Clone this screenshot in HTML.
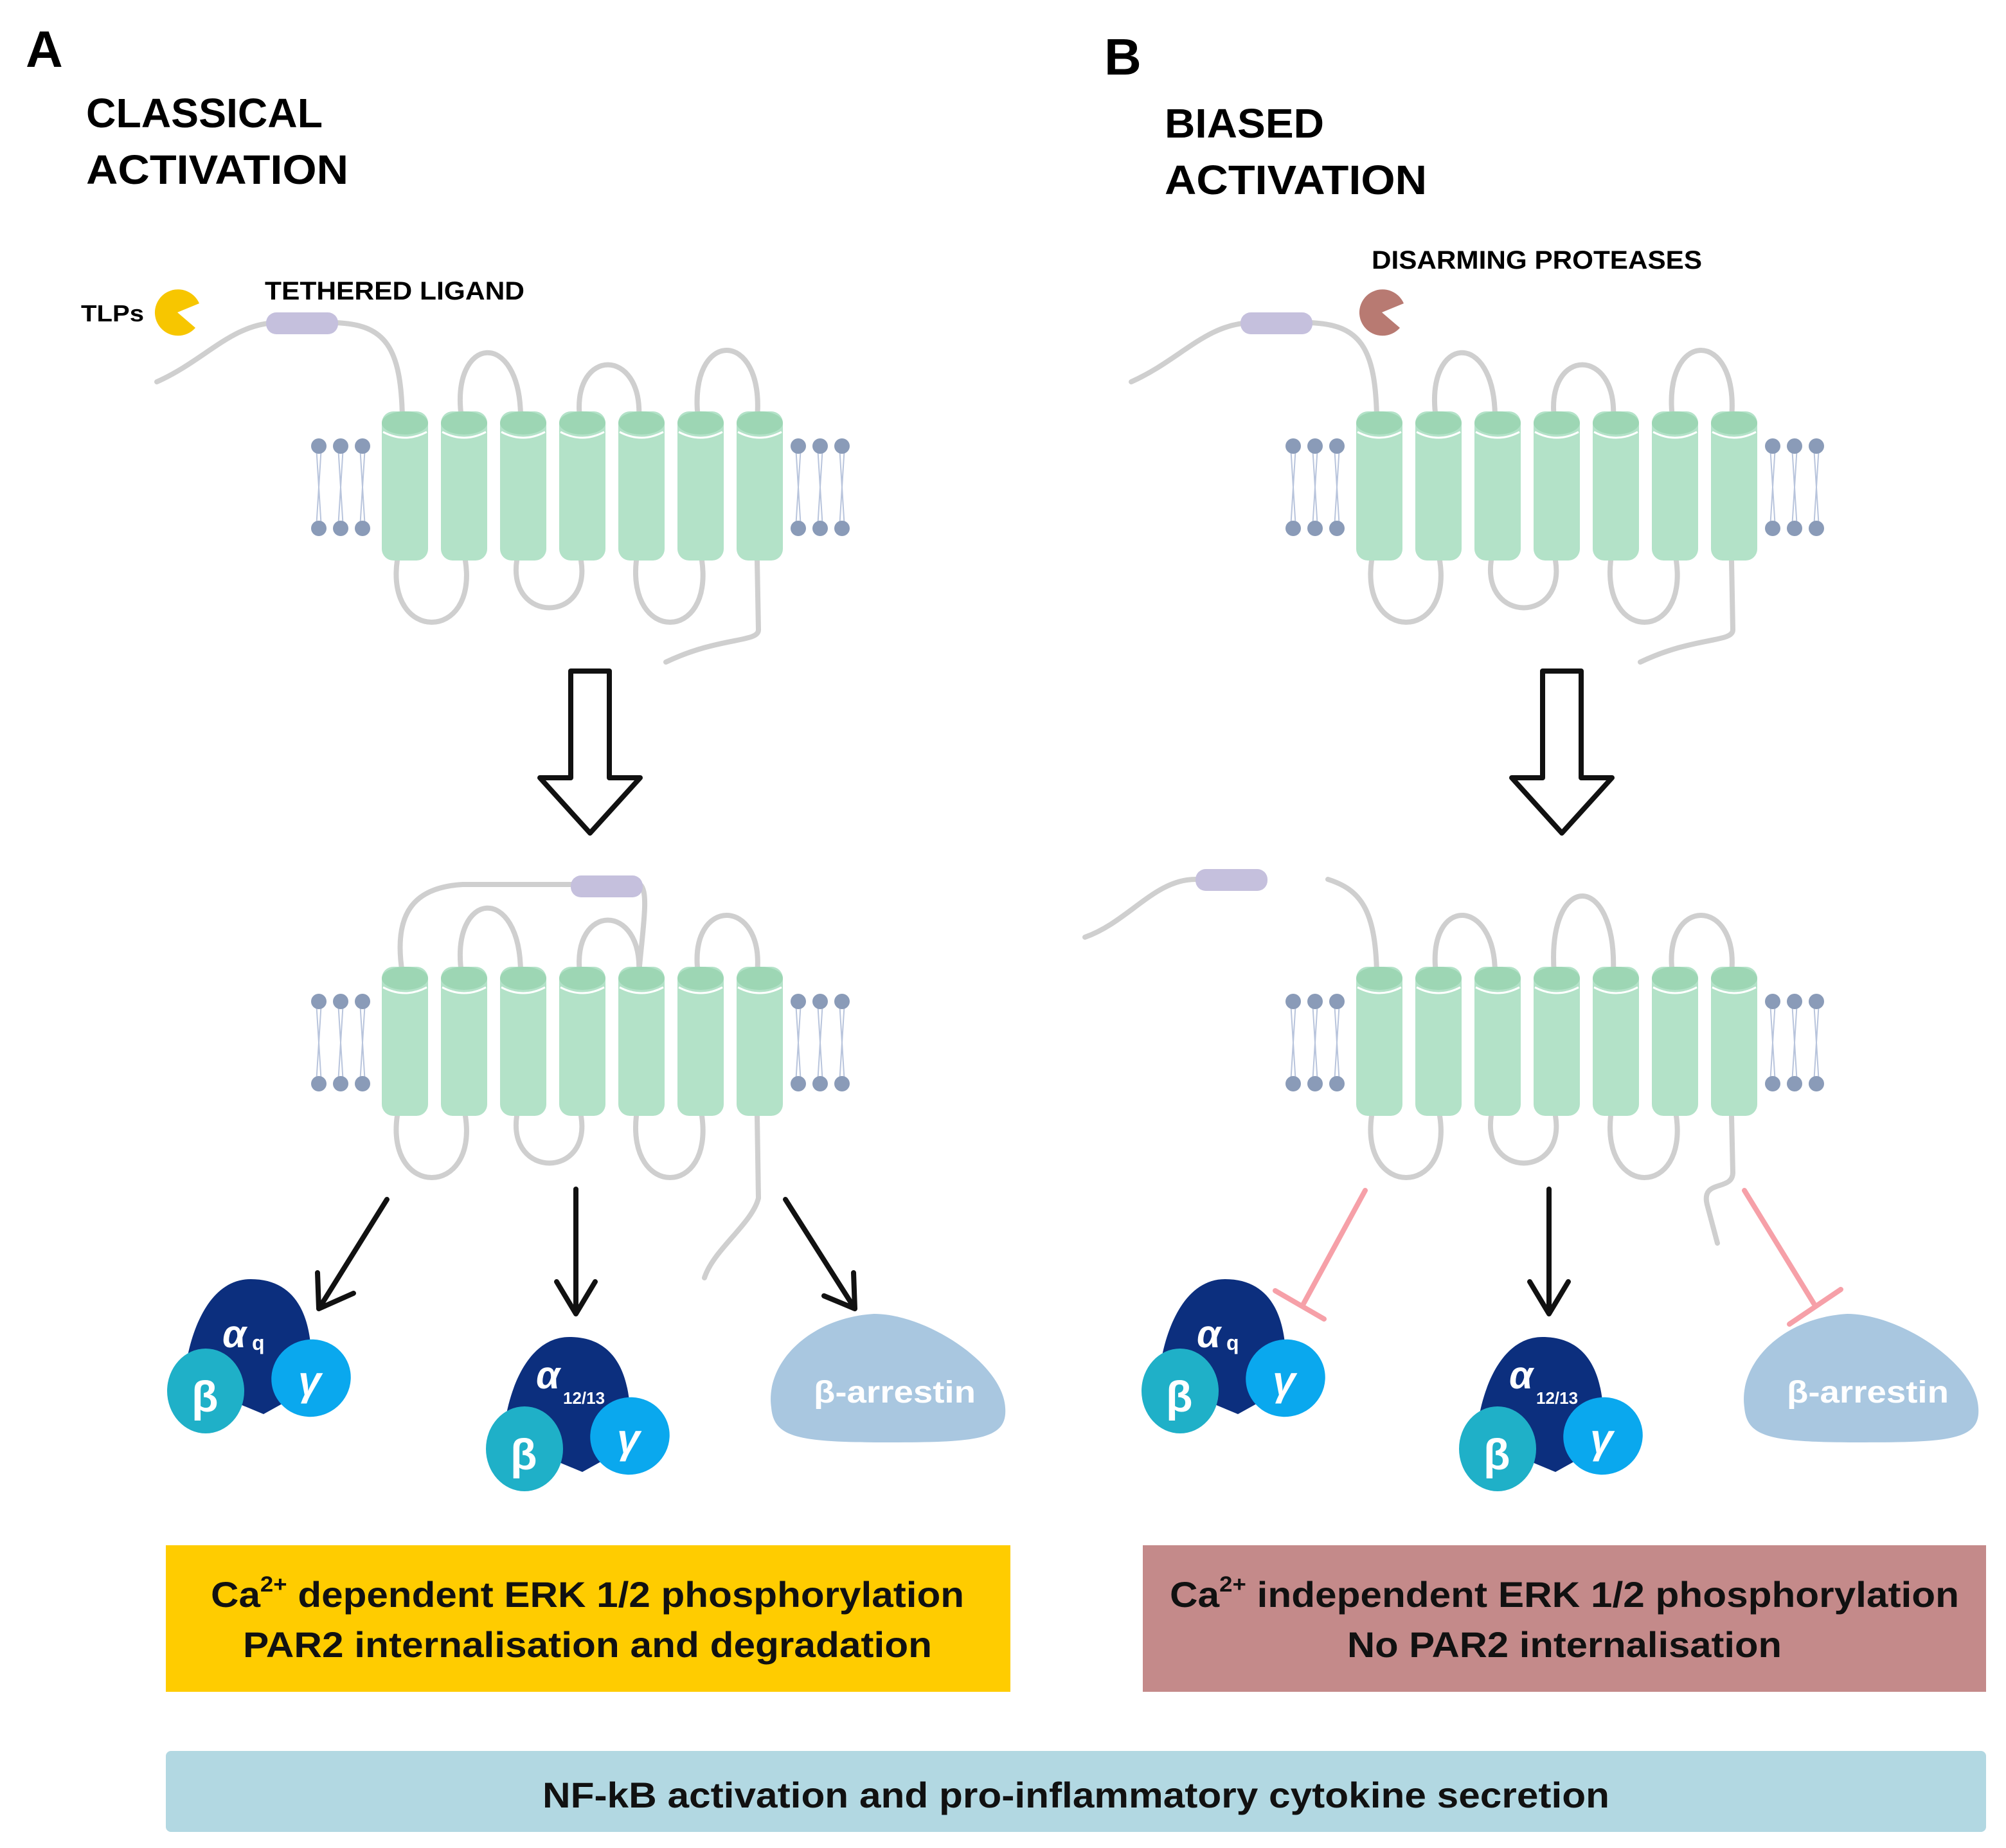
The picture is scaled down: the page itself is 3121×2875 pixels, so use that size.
<!DOCTYPE html>
<html><head><meta charset="utf-8"><style>
html,body{margin:0;padding:0;background:#fff}
svg{display:block}
text{font-family:"Liberation Sans",sans-serif;font-weight:bold}
</style></head><body>
<svg width="3121" height="2875" viewBox="0 0 1560.5 1437.5" xmlns="http://www.w3.org/2000/svg">
<defs>
<g id="lip">
 <g stroke="#b8c4dc" stroke-width="1" fill="none">
  <path d="M0 347 L2 379 L0 411 M4 347 L2 379 L4 411"/>
 </g>
 <circle cx="2" cy="347" r="6" fill="#8a9bb8"/><circle cx="2" cy="411" r="6" fill="#8a9bb8"/>
</g>
<g id="cyl">
 <rect x="0" y="320" width="36" height="116" rx="9" fill="#b3e2c8"/>
 <ellipse cx="18" cy="329" rx="18" ry="9" fill="#9dd6b4"/>
 <path d="M1 336 Q18 345 35 336" stroke="#fff" stroke-width="1.5" fill="none"/>
</g>
<g id="tm">
 <use href="#lip" x="246"/><use href="#lip" x="263"/><use href="#lip" x="280"/>
 <use href="#lip" x="619"/><use href="#lip" x="636"/><use href="#lip" x="653"/>
 <use href="#cyl" x="297"/><use href="#cyl" x="343"/><use href="#cyl" x="389"/><use href="#cyl" x="435"/>
 <use href="#cyl" x="481"/><use href="#cyl" x="527"/><use href="#cyl" x="573"/>
</g>
<g id="icl" stroke="#cfcfcf" stroke-width="4" fill="none" stroke-linecap="round">
 <path d="M309 436 C300 500 372 500 362 436"/>
 <path d="M402 436 C395 485 460 485 452 436"/>
 <path d="M495 436 C488 500 555 500 546 436"/>
</g>
<g id="gq">
 <path d="M145 1060 C150 1030 165 995 195 995 C228 995 240 1020 242 1050 L250 1075 L205 1100 L145 1075 Z" fill="#0c2f7e"/>
 <ellipse cx="160" cy="1082" rx="30" ry="33" fill="#1fb0c8"/>
 <ellipse cx="242" cy="1072" rx="31" ry="30" fill="#0aa8ee" transform="rotate(-20 242 1072)"/>
 <text x="149" y="1098" font-size="34" fill="#fff" font-family="Liberation Serif">β</text>
 <text x="232" y="1085" font-size="32" fill="#fff" font-family="Liberation Serif" font-style="italic">γ</text>
</g>
</defs>

<!-- Titles -->
<text x="20" y="52" font-size="40">A</text>
<text x="67" y="99" font-size="32" textLength="184" lengthAdjust="spacingAndGlyphs">CLASSICAL</text>
<text x="67" y="143" font-size="32" textLength="204" lengthAdjust="spacingAndGlyphs">ACTIVATION</text>
<text x="859" y="58" font-size="40">B</text>
<text x="906" y="107" font-size="32" textLength="124" lengthAdjust="spacingAndGlyphs">BIASED</text>
<text x="906" y="151" font-size="32" textLength="204" lengthAdjust="spacingAndGlyphs">ACTIVATION</text>
<text x="63" y="250" font-size="18" textLength="49" lengthAdjust="spacingAndGlyphs">TLPs</text>
<text x="206" y="233" font-size="20" textLength="202" lengthAdjust="spacingAndGlyphs">TETHERED LIGAND</text>
<text x="1067" y="209" font-size="20" textLength="257" lengthAdjust="spacingAndGlyphs">DISARMING PROTEASES</text>

<!-- pacmen -->
<path d="M138 243 L155 236 A18 18 0 1 0 152 255 Z" fill="#f7c600"/>
<path d="M1075 243 L1092 236 A18 18 0 1 0 1089 255 Z" fill="#b87a72"/>

<!-- A top receptor -->
<g stroke="#cfcfcf" stroke-width="4" fill="none" stroke-linecap="round">
 <path d="M122 297 C160 280 180 252 215 251 M260 251 C300 252 312 270 313 325"/>
 <path d="M359 325 C350 260 405 255 405 325"/>
 <path d="M451 325 C445 270 500 270 497 325"/>
 <path d="M543 325 C535 255 595 255 589 325"/>
 <path d="M589 436 L590 490 C590 500 560 495 518 515"/>
</g>
<rect x="207" y="243" width="56" height="17" rx="8" fill="#c5c0dd"/>
<use href="#icl"/>
<use href="#tm"/>

<!-- B top receptor -->
<g transform="translate(758 0)">
<g stroke="#cfcfcf" stroke-width="4" fill="none" stroke-linecap="round">
 <path d="M122 297 C160 280 180 252 215 251 M260 251 C300 252 312 270 313 325"/>
 <path d="M359 325 C350 260 405 255 405 325"/>
 <path d="M451 325 C445 270 500 270 497 325"/>
 <path d="M543 325 C535 255 595 255 589 325"/>
 <path d="M589 436 L590 490 C590 500 560 495 518 515"/>
</g>
<rect x="207" y="243" width="56" height="17" rx="8" fill="#c5c0dd"/>
<use href="#icl"/>
<use href="#tm"/>
</g>

<!-- big hollow arrows -->
<path d="M444 522 L474 522 L474 605 L498 605 L459 648 L420 605 L444 605 Z" fill="#fff" stroke="#111" stroke-width="4" stroke-linejoin="round"/>
<path d="M1200 522 L1230 522 L1230 605 L1254 605 L1215 648 L1176 605 L1200 605 Z" fill="#fff" stroke="#111" stroke-width="4" stroke-linejoin="round"/>

<!-- A bottom receptor -->
<g transform="translate(0 432)">
<g stroke="#cfcfcf" stroke-width="4" fill="none" stroke-linecap="round">
 <path d="M313 325 C305 275 325 258 360 256 L445 256 M498 256 C505 262 500 290 497 325"/>
 <path d="M359 325 C350 260 405 255 405 325"/>
 <path d="M451 325 C445 270 500 270 497 325"/>
 <path d="M543 325 C535 265 595 265 589 325"/>
 <path d="M589 436 L590 500 C585 520 555 540 548 562"/>
</g>
<rect x="444" y="249" width="56" height="17" rx="8" fill="#c5c0dd"/>
<use href="#icl"/>
<use href="#tm"/>
</g>

<!-- B bottom receptor -->
<g transform="translate(758 432)">
<g stroke="#cfcfcf" stroke-width="4" fill="none" stroke-linecap="round">
 <path d="M86 297 C120 285 140 252 172 252"/>
 <path d="M275 252 C300 260 312 275 313 325"/>
 <path d="M359 325 C352 265 405 265 405 325"/>
 <path d="M451 325 C445 245 500 245 497 325"/>
 <path d="M543 325 C535 265 595 265 589 325"/>
 <path d="M589 436 L590 480 C590 495 565 485 570 505 L578 535"/>
</g>
<rect x="172" y="244" width="56" height="17" rx="8" fill="#c5c0dd"/>
<use href="#icl"/>
<use href="#tm"/>
</g>

<!-- A arrows -->
<g stroke="#111" stroke-width="4" fill="none" stroke-linecap="round" stroke-linejoin="round">
 <path d="M301 933 L248 1018 M247 990 L248 1018 L275 1006"/>
 <path d="M448 925 L448 1022 M433 997 L448 1022 L463 997"/>
 <path d="M611 933 L665 1018 M641 1008 L665 1018 L664 990"/>
 <path d="M1205 925 L1205 1022 M1190 997 L1205 1022 L1220 997"/>
</g>
<!-- B inhibitory -->
<g stroke="#f6a0a8" stroke-width="4" fill="none" stroke-linecap="round">
 <path d="M1062 926 L1013 1016 M992 1004 L1030 1026"/>
 <path d="M1357 926 L1411 1014 M1392 1030 L1432 1003"/>
</g>

<!-- G proteins -->
<use href="#gq"/>
<use href="#gq" x="248" y="45"/>
<use href="#gq" x="758"/>
<use href="#gq" x="1005" y="45"/>
<g font-family="Liberation Serif" font-style="italic" fill="#fff" font-size="30">
 <text x="173" y="1048">α</text><text x="931" y="1048">α</text>
 <text x="417" y="1080">α</text><text x="1174" y="1080">α</text>
</g>
<g font-family="Liberation Sans" font-weight="bold" fill="#fff">
 <text x="196" y="1050" font-size="16">q</text>
 <text x="438" y="1092" font-size="13">12/13</text>
 <text x="954" y="1050" font-size="16">q</text>
 <text x="1195" y="1092" font-size="13">12/13</text>
</g>

<!-- beta-arrestin -->
<path d="M600 1095 C595 1060 630 1025 680 1022 C720 1022 780 1060 782 1095 C784 1120 760 1122 690 1122 C620 1122 602 1118 600 1095 Z" fill="#a9c7e0"/>
<text x="633" y="1091" font-size="24" fill="#fff" textLength="126" lengthAdjust="spacingAndGlyphs">β-arrestin</text>
<path d="M1357 1095 C1352 1060 1387 1025 1437 1022 C1477 1022 1537 1060 1539 1095 C1541 1120 1517 1122 1447 1122 C1377 1122 1359 1118 1357 1095 Z" fill="#a9c7e0"/>
<text x="1390" y="1091" font-size="24" fill="#fff" textLength="126" lengthAdjust="spacingAndGlyphs">β-arrestin</text>

<!-- Boxes -->
<rect x="129" y="1202" width="657" height="114" fill="#ffcc00"/>
<text x="457" y="1250" font-size="28" text-anchor="middle" fill="#111" textLength="586" lengthAdjust="spacingAndGlyphs">Ca<tspan dy="-12" font-size="17">2+</tspan><tspan dy="12"> dependent ERK 1/2 phosphorylation</tspan></text>
<text x="457" y="1289" font-size="28" text-anchor="middle" fill="#111" textLength="536" lengthAdjust="spacingAndGlyphs">PAR2 internalisation and degradation</text>
<rect x="889" y="1202" width="656" height="114" fill="#c48a8a"/>
<text x="1217" y="1250" font-size="28" text-anchor="middle" fill="#111" textLength="614" lengthAdjust="spacingAndGlyphs">Ca<tspan dy="-12" font-size="17">2+</tspan><tspan dy="12"> independent ERK 1/2 phosphorylation</tspan></text>
<text x="1217" y="1289" font-size="28" text-anchor="middle" fill="#111" textLength="338" lengthAdjust="spacingAndGlyphs">No PAR2 internalisation</text>
<rect x="129" y="1362" width="1416" height="63" rx="4" fill="#b2d8e2"/>
<text x="837" y="1406" font-size="28" text-anchor="middle" fill="#111" textLength="830" lengthAdjust="spacingAndGlyphs">NF-kB activation and pro-inflammatory cytokine secretion</text>
</svg>
</body></html>
